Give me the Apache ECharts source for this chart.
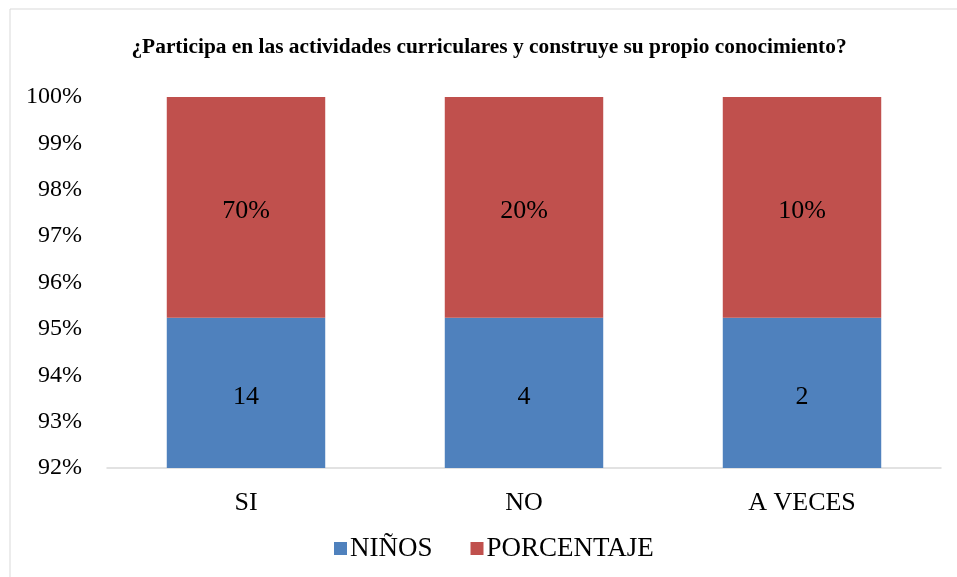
<!DOCTYPE html>
<html>
<head>
<meta charset="utf-8">
<script src="https://cdn.jsdelivr.net/npm/echarts@6/dist/echarts.min.js"></script>
<style>
  html, body { margin: 0; padding: 0; background: #fff; }
  #chart { width: 957px; height: 577px; }
</style>
</head>
<body>
<div id="chart"></div>
<script>
const categories = ['SI', 'NO', 'A VECES'];
const ninos = [14, 4, 2];
const porcentaje = [0.7, 0.2, 0.1];
const yTicks = ['92%', '93%', '94%', '95%', '96%', '97%', '98%', '99%', '100%'];

// 100% stacked: each bar's share of its column total
const totals = categories.map((_, i) => ninos[i] + porcentaje[i]);
const ninosShare = ninos.map((v, i) => v / totals[i] * 100);
const porcShare = porcentaje.map((v, i) => v / totals[i] * 100);

const serif = 'Liberation Serif, Times New Roman, serif';

const chart = echarts.init(document.getElementById('chart'));
chart.setOption({
  animation: false,
  textStyle: { fontFamily: serif },
  title: {
    text: '¿Participa en las actividades curriculares y construye su propio conocimiento?',
    left: 484,
    textAlign: 'center',
    top: 32,
    textStyle: { fontFamily: serif, fontSize: 21.4, fontWeight: 'bold', color: '#000' }
  },
  graphic: [{
    type: 'rect',
    shape: { x: 10, y: 9, width: 980, height: 600 },
    style: { fill: 'none', stroke: '#d9d9d9', lineWidth: 1 },
    silent: true
  }],
  legend: {
    top: 530,
    left: 329,
    itemWidth: 13,
    itemHeight: 13,
    itemGap: 38,
    icon: 'rect',
    textStyle: { fontFamily: serif, fontSize: 27, color: '#000', padding: [0, 0, 0, -2] },
    data: ['NIÑOS', 'PORCENTAJE']
  },
  grid: { left: 107, right: 16, top: 97, bottom: 109 },
  xAxis: {
    type: 'category',
    data: categories,
    axisLine: { lineStyle: { color: '#d9d9d9', width: 1.5 } },
    axisTick: { show: false },
    axisLabel: { fontFamily: serif, fontSize: 26, color: '#000', margin: 22 }
  },
  yAxis: {
    type: 'value',
    min: 92,
    max: 100,
    interval: 1,
    splitLine: { show: false },
    axisLine: { show: false },
    axisTick: { show: false },
    axisLabel: {
      fontFamily: serif, fontSize: 24, color: '#000', margin: 25,
      formatter: v => yTicks[Math.round(v - 92)]
    }
  },
  series: [
    {
      name: 'NIÑOS',
      type: 'bar',
      stack: 'total',
      barWidth: '57%',
      itemStyle: { color: '#4f81bd' },
      label: {
        show: true, position: 'inside', offset: [0, 4], fontFamily: serif, fontSize: 26, color: '#000',
        formatter: p => String(ninos[p.dataIndex])
      },
      data: ninosShare
    },
    {
      name: 'PORCENTAJE',
      type: 'bar',
      stack: 'total',
      barWidth: '57%',
      itemStyle: { color: '#c0504d' },
      label: {
        show: true, position: 'inside', offset: [0, 4], fontFamily: serif, fontSize: 26, color: '#000',
        formatter: p => Math.round(porcentaje[p.dataIndex] * 100) + '%'
      },
      data: porcShare
    }
  ]
});
</script>
</body>
</html>
